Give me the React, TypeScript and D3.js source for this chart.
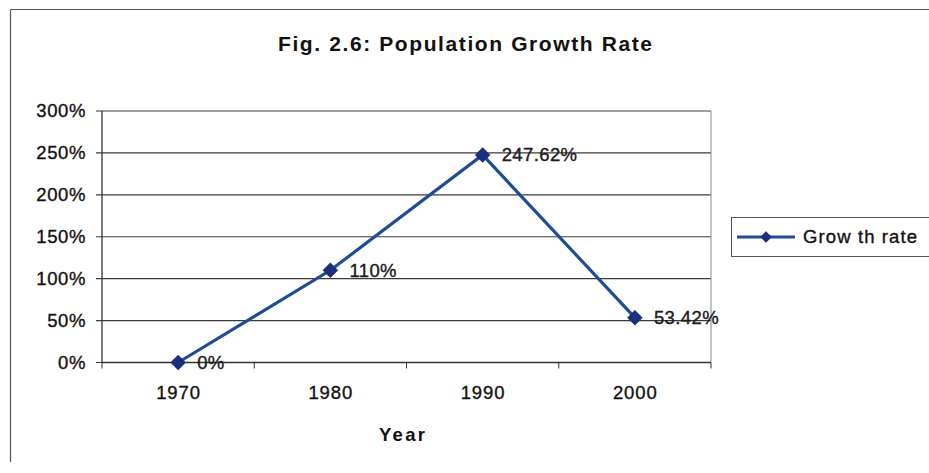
import React from "react";
import * as d3 from "d3";

const years = ["1970", "1980", "1990", "2000"];
const growthRate = [0, 110, 247.62, 53.42];
const rateLabels = ["0%", "110%", "247.62%", "53.42%"];
const yTicks = [0, 50, 100, 150, 200, 250, 300];

const W = 929;
const H = 473;
const plot = { left: 102, right: 711, top: 111, bottom: 362.5 };
const font = "Arial, 'Liberation Sans', Helvetica, sans-serif";
const lineColor = "#1F4C96";
const markerColor = "#1C2F7C";
const textSize = 18.5;

// slightly heavier strokes for the regular-weight labels
const heavy = { stroke: "#111", strokeWidth: 0.35 };

export default function App() {
  const x = d3.scaleBand<string>().domain(years).range([plot.left, plot.right]);
  const y = d3.scaleLinear().domain([0, 300]).range([plot.bottom, plot.top]);
  const cx = (d: string) => (x(d) as number) + x.bandwidth() / 2;

  const line = d3
    .line<number>()
    .x((_, i) => cx(years[i]))
    .y((v) => y(v));

  // square rotated 45° gives an even diamond marker
  const diamond = d3.symbol().type(d3.symbolSquare).size(120)() as string;
  const boundaries = [...years.map((d) => x(d) as number), plot.right];

  return (
    <div style={{ position: "fixed", left: 0, top: 0, width: W, height: H }}>
      <svg width={W} height={H} style={{ display: "block", background: "#fff" }}>
        {/* chart frame */}
        <line x1={10.5} y1={9.5} x2={W} y2={9.5} stroke="#555" strokeWidth={1.2} />
        <line x1={10.5} y1={9.5} x2={10.5} y2={462} stroke="#555" strokeWidth={1.2} />

        <text
          x={278}
          y={44}
          dy="0.35em"
          fontFamily={font}
          fontWeight="bold"
          fontSize={21}
          fill="#111"
          textLength={374}
          lengthAdjust="spacing"
        >
          Fig. 2.6: Population Growth Rate
        </text>

        {/* gridlines and y axis */}
        {yTicks.map((t) => (
          <g key={t}>
            <line x1={plot.left - 6} x2={plot.right} y1={y(t)} y2={y(t)} stroke="#3a3a3a" strokeWidth={1.1} />
            <text
              x={86}
              y={y(t)}
              dy="0.35em"
              textAnchor="end"
              fontFamily={font}
              fontSize={textSize}
              letterSpacing={0.6}
              fill="#111"
              {...heavy}
            >
              {t}%
            </text>
          </g>
        ))}
        <line x1={plot.left} x2={plot.left} y1={plot.top} y2={plot.bottom} stroke="#333" strokeWidth={1.3} />
        <line x1={plot.right} x2={plot.right} y1={plot.top} y2={plot.bottom} stroke="#888" strokeWidth={1} />

        {/* x axis */}
        <line x1={plot.left} x2={plot.right} y1={plot.bottom} y2={plot.bottom} stroke="#333" strokeWidth={1.5} />
        {boundaries.map((b, i) => (
          <line key={i} x1={b} x2={b} y1={plot.bottom} y2={plot.bottom + 6} stroke="#333" strokeWidth={1} />
        ))}
        {years.map((d) => (
          <text
            key={d}
            x={cx(d) - 22}
            y={393}
            dy="0.35em"
            fontFamily={font}
            fontSize={textSize}
            fill="#111"
            textLength={44}
            lengthAdjust="spacing"
            {...heavy}
          >
            {d}
          </text>
        ))}
        <text
          x={379}
          y={435}
          dy="0.35em"
          fontFamily={font}
          fontWeight="bold"
          fontSize={textSize}
          fill="#111"
          textLength={46}
          lengthAdjust="spacing"
        >
          Year
        </text>

        {/* series */}
        <path d={line(growthRate) as string} fill="none" stroke={lineColor} strokeWidth={3.2} />
        {growthRate.map((v, i) => (
          <g key={i}>
            <path d={diamond} transform={`translate(${cx(years[i])},${y(v)}) rotate(45)`} fill={markerColor} />
            <text
              x={cx(years[i]) + 19}
              y={y(v)}
              dy="0.35em"
              fontFamily={font}
              fontSize={textSize}
              letterSpacing={0.4}
              fill="#222"
              {...heavy}
            >
              {rateLabels[i]}
            </text>
          </g>
        ))}

        {/* legend */}
        <rect x={731.5} y={217.5} width={210} height={39} fill="#fff" stroke="#555" strokeWidth={1} />
        <line x1={737} x2={795} y1={237} y2={237} stroke={lineColor} strokeWidth={3} />
        <path d={diamond} transform="translate(766,237) rotate(45) scale(0.75)" fill={markerColor} />
        <text
          x={803}
          y={237}
          dy="0.35em"
          fontFamily={font}
          fontSize={textSize}
          fill="#111"
          textLength={114}
          lengthAdjust="spacing"
          {...heavy}
        >
          Grow th rate
        </text>
      </svg>
    </div>
  );
}
